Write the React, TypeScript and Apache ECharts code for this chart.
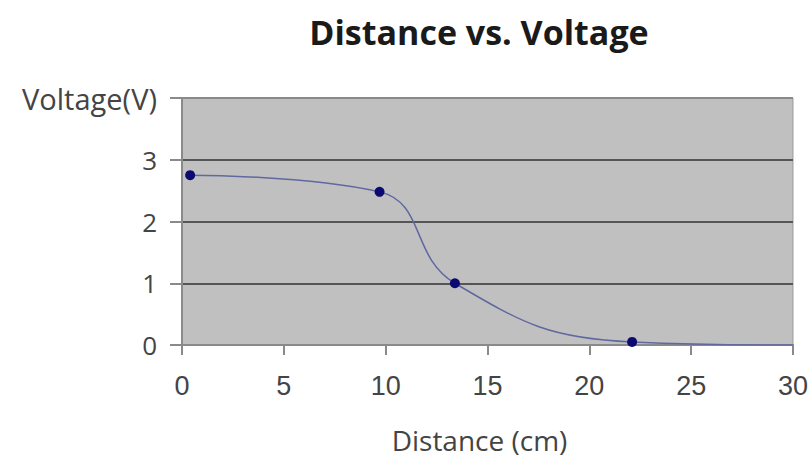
import React, { useEffect, useRef } from "react";
import * as echarts from "echarts";

const distances = [0.4, 9.7, 13.4, 22.1, 30];
const voltages = [2.75, 2.48, 1.0, 0.05, 0];
const showMarker = [true, true, true, true, false];
const xTicks = [0, 5, 10, 15, 20, 25, 30];
const yTicks = [0, 1, 2, 3, 4];
const yTopLabel = "Voltage(V)";

export default function App() {
  const ref = useRef<HTMLDivElement>(null);
  useEffect(() => {
    if (!ref.current) return;
    const chart = echarts.init(ref.current, null, { renderer: "svg" });
    const data = distances.map((d, i) =>
      showMarker[i]
        ? { value: [d, voltages[i]] }
        : { value: [d, voltages[i]], symbol: "none" }
    );
    chart.setOption({
      animation: false,
      backgroundColor: "#ffffff",
      title: {
        text: "Distance vs. Voltage",
        left: 474,
        top: 10,
        textAlign: "center",
        textStyle: {
          fontFamily: "Open Sans",
          fontWeight: "bold",
          fontSize: 34,
          color: "#1a1a1a",
        },
      },
      grid: {
        left: 182,
        right: 15,
        top: 98,
        bottom: 129,
        show: true,
        backgroundColor: "#c0c0c0",
        borderColor: "#9a9a9a",
        borderWidth: 1,
      },
      xAxis: {
        type: "value",
        min: xTicks[0],
        max: xTicks[xTicks.length - 1],
        interval: 5,
        name: "Distance (cm)",
        nameLocation: "middle",
        nameGap: 81,
        nameTextStyle: {
          fontFamily: "Open Sans",
          fontSize: 28,
          color: "#444",
          padding: [0, 16, 0, 0],
        },
        axisLine: { show: true, lineStyle: { color: "#8a8a8a", width: 2 } },
        axisTick: { show: true, length: 10, lineStyle: { color: "#8a8a8a", width: 2 } },
        axisLabel: {
          margin: 27,
          fontFamily: "Liberation Sans",
          fontSize: 27,
          color: "#444",
        },
        splitLine: { show: false },
      },
      yAxis: {
        type: "value",
        min: yTicks[0],
        max: yTicks[yTicks.length - 1],
        interval: 1,
        axisLine: { show: true, lineStyle: { color: "#8a8a8a", width: 2 } },
        axisTick: { show: true, length: 12, lineStyle: { color: "#8a8a8a", width: 2 } },
        axisLabel: {
          margin: 25,
          fontFamily: "Open Sans",
          fontSize: 26,
          color: "#444",
          formatter: (v: number) =>
            v === yTicks[yTicks.length - 1] ? "{top|" + yTopLabel + "}" : String(v),
          rich: {
            top: { fontFamily: "Open Sans", fontSize: 29, color: "#444" },
          },
        },
        splitLine: {
          show: true,
          lineStyle: { color: ["#555", "#555", "#555", "#555", "#8a8a8a"], width: 2 },
        },
      },
      series: [
        {
          type: "line",
          data,
          smooth: 0.45,
          symbol: "circle",
          symbolSize: 10,
          itemStyle: { color: "#0a0a70" },
          lineStyle: { color: "#6068a0", width: 1.5 },
        },
      ],
    });
    return () => chart.dispose();
  }, []);
  return (
    <div
      ref={ref}
      style={{ position: "fixed", left: 0, top: 0, width: 811, height: 474 }}
    />
  );
}
